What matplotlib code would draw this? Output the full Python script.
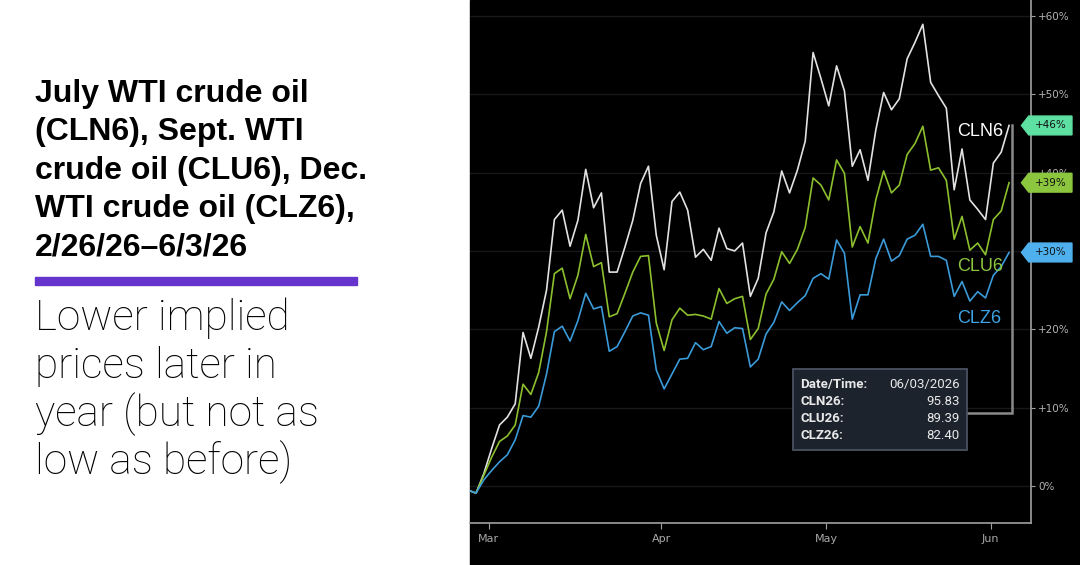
import numpy as np
import pandas as pd
import matplotlib
matplotlib.use('Agg')
import matplotlib.pyplot as plt
from matplotlib.patches import Rectangle, Polygon

# trading days shown on the chart (Good Friday left out)
dates = pd.bdate_range('2026-02-25', '2026-06-03')
dates = dates[dates != pd.Timestamp('2026-04-03')]

# % change
cln6 = [-0.5, -0.9, 1.6, 4.8, 7.8, 8.8, 10.5, 19.6, 16.3, 20.3, 25.0, 34.0, 35.2, 30.6, 33.9, 40.4,
        35.5, 37.4, 27.3, 27.3, 30.5, 33.9, 38.6, 40.8, 32.0, 27.6, 36.3, 37.5, 35.2, 29.2, 30.2,
        28.8, 32.9, 30.3, 30.0, 31.0, 24.2, 26.5, 32.3, 35.0, 40.2, 37.4, 40.3, 44.0, 55.3, 52.0,
        48.5, 53.6, 50.4, 40.8, 42.9, 39.0, 45.4, 50.2, 48.0, 49.4, 54.5, 56.6, 58.9, 51.5, 49.8,
        48.2, 37.8, 43.0, 36.5, 35.3, 34.0, 41.2, 42.6, 46.0]
clu6 = [-0.5, -0.9, 1.4, 3.7, 5.7, 6.4, 7.8, 13.0, 11.7, 14.5, 19.7, 27.1, 27.8, 23.9, 26.9, 32.1,
        28.0, 28.5, 21.6, 22.0, 24.6, 27.3, 29.3, 29.4, 20.8, 17.3, 21.2, 22.7, 21.8, 21.9, 21.7,
        21.3, 25.2, 23.3, 23.9, 24.2, 18.7, 20.1, 24.5, 26.4, 29.9, 28.4, 30.2, 33.0, 39.3, 38.4,
        36.5, 41.6, 39.9, 30.5, 33.1, 31.0, 36.5, 40.2, 37.4, 38.4, 42.3, 43.7, 45.9, 40.3, 40.6,
        39.0, 31.5, 34.4, 30.1, 31.0, 29.5, 34.0, 35.1, 38.7]
clz6 = [-0.5, -0.9, 0.8, 2.0, 3.1, 4.0, 5.9, 9.0, 8.8, 10.2, 14.3, 19.7, 20.4, 18.5, 21.1, 24.6,
        22.6, 22.9, 17.2, 17.8, 19.7, 21.7, 22.1, 21.8, 14.8, 12.4, 14.3, 16.2, 16.3, 18.3, 17.4,
        17.8, 21.0, 19.5, 20.2, 20.1, 15.2, 16.2, 19.4, 20.9, 23.5, 22.4, 23.4, 24.3, 26.5, 27.1,
        26.4, 31.4, 29.7, 21.3, 24.4, 24.4, 29.0, 31.5, 28.7, 29.4, 31.5, 32.0, 33.4, 29.3, 29.3,
        28.8, 24.2, 26.1, 23.6, 24.8, 24.0, 26.9, 28.0, 29.8]

series_names = ['CLN6', 'CLU6', 'CLZ6']
line_colors = ['#e2e2e2', '#8cbf2e', '#3b9ad8']
badge_colors = ['#5ee0a2', '#8cc63f', '#4fb0ee']

tip_names = ['CLN26:', 'CLU26:', 'CLZ26:']
tip_prices = [95.83, 89.39, 82.40]

title_lines = ['July WTI crude oil', '(CLN6), Sept. WTI', 'crude oil (CLU6), Dec.',
               'WTI crude oil (CLZ6),', '2/26/26\u20136/3/26']
sub_lines = ['Lower implied', 'prices later in', 'year (but not as', 'low as before)']

W, H = 1080, 565
fig = plt.figure(figsize=(W / 100, H / 100), dpi=100)
fig.patch.set_facecolor('white')
fig.patches.append(Rectangle((470 / W, 0), 1 - 470 / W, 1, transform=fig.transFigure,
                             color='black', zorder=-5))

# left text panel
for k, line in enumerate(title_lines):
    fig.text(35 / W, 1 - (102 + 38.3 * k) / H, line, fontsize=23, fontweight='bold',
             family='Liberation Sans', color='black', va='baseline')
fig.patches.append(Rectangle((35 / W, 1 - 285 / H), 322 / W, 8 / H, transform=fig.transFigure,
                             color='#6534cc'))
for k, line in enumerate(sub_lines):
    fig.text(35 / W, 1 - (330 + 48 * k) / H, line, fontsize=30.5, fontweight='light',
             family='Roboto', color='black', va='baseline')

ax = fig.add_axes([470 / W, 42 / H, 561 / W, 523 / H])
ax.set_facecolor('black')
x = np.arange(len(dates))

for vals, c in zip([cln6, clu6, clz6], line_colors):
    ax.plot(x, vals, color=c, lw=1.2, zorder=3)

ax.set_xlim(0.235, 71.8)
ax.set_ylim(-4.7, 62)

# tick labels hidden behind a badge are left blank
last_vals = [cln6[-1], clu6[-1], clz6[-1]]
yt = np.arange(0, 61, 10)
ax.set_yticks(yt)
ax.set_yticklabels(['' if min(abs(v - lv) for lv in last_vals) < 0.5 else
                    ('0%' if v == 0 else f'+{v}%') for v in yt])
ax.yaxis.tick_right()
ax.yaxis.grid(True, color='#17171c', lw=1.0)

month_first = [int(np.argmax(dates.month == m)) for m in (3, 4, 5, 6)]
ax.set_xticks(np.array(month_first) - 0.35)
ax.set_xticklabels([dates[i].strftime('%b') for i in month_first])

for s in ['left', 'top']:
    ax.spines[s].set_visible(False)
for s in ['right', 'bottom']:
    ax.spines[s].set_color('#a0a0a0')
    ax.spines[s].set_linewidth(1.2)
ax.tick_params(axis='y', colors='#a0a0a0', labelcolor='#b4b4b4', length=3, labelsize=7.5, pad=2)
ax.tick_params(axis='x', colors='#a0a0a0', labelcolor='#a8a8a8', length=4, labelsize=8, pad=4)

# end-of-line badges on the right axis
ytr = ax.get_yaxis_transform()
for y, c in zip(last_vals, badge_colors):
    pts = [(0.983, y), (0.996, y + 1.2), (1.073, y + 1.2), (1.073, y - 1.2), (0.996, y - 1.2)]
    ax.add_patch(Polygon(pts, closed=True, transform=ytr, color=c, clip_on=False, zorder=6))
    ax.text(1.035, y, f'+{round(y)}%', transform=ytr, fontsize=7.5, color='#101010',
            ha='center', va='center', zorder=7, clip_on=False)

# series labels
label_y = [45.2, 28.0, 21.4]
for name, c, ly in zip(series_names, ['white', '#8cc63f', '#3ea4e6'], label_y):
    ax.text(62.35, ly, name, fontsize=13, color=c, family='Liberation Sans', va='center', zorder=5)

# tooltip and its connector
ax.plot([69.33, 69.33, 63.6], [cln6[-1], 9.3, 9.3], color='#8a8a8a', lw=1.8, zorder=4,
        solid_joinstyle='miter')
ax.add_patch(Rectangle((41.4, 4.6), 22.2, 10.3, facecolor='#1c232d', edgecolor='#4a5262',
                       lw=1.3, zorder=5))
rows = [('Date/Time:', dates[-1].strftime('%m/%d/%Y'))] + \
       [(n, f'{p:.2f}') for n, p in zip(tip_names, tip_prices)]
for k, (a, b) in enumerate(rows):
    yy = 12.9 - 2.13 * k
    ax.text(42.4, yy, a, fontsize=9.5, fontweight='bold', color='#e8e8e8',
            family='Roboto', va='center', zorder=6)
    ax.text(62.7, yy, b, fontsize=9.5, color='#e8e8e8', family='Roboto',
            ha='right', va='center', zorder=6)

fig.savefig('out.png', dpi=100)
